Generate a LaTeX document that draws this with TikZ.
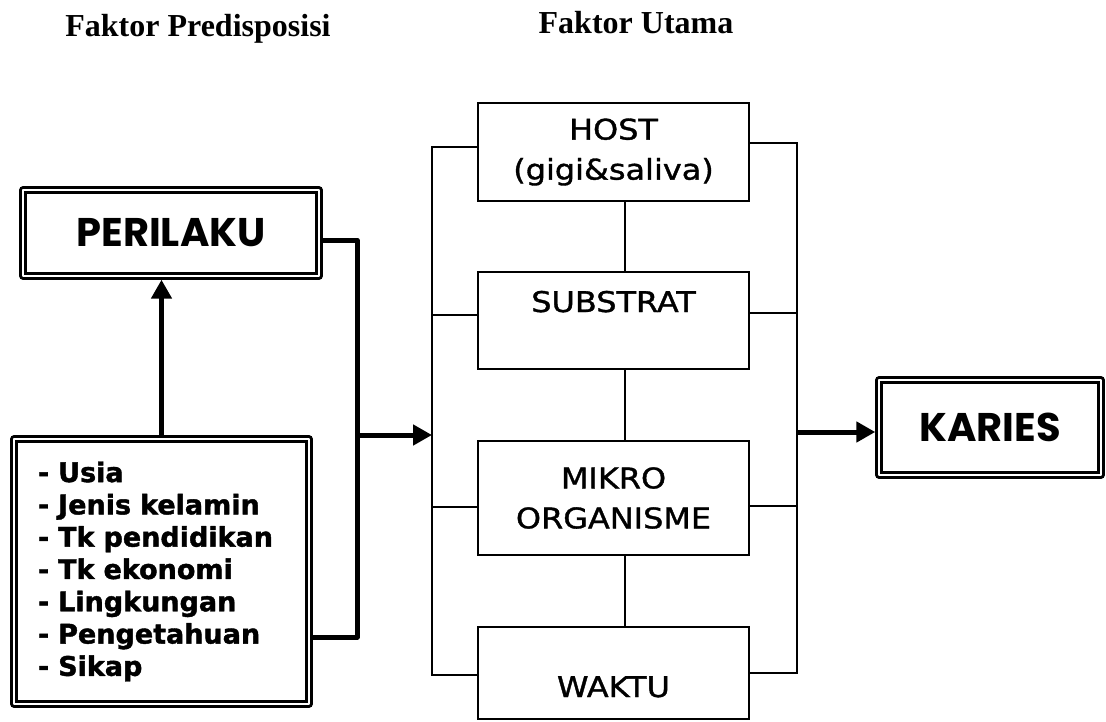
\documentclass[tikz,border=0pt]{standalone}
\usepackage{fontspec}
\usepackage{graphicx}
\setmainfont{Liberation Serif}
\newfontfamily\boxfont[FakeBold=1.2]{DejaVu Sans}
\newfontfamily\listfont[BoldFeatures={FakeBold=1.5}]{DejaVu Sans}
\newfontfamily\comicfont{Poppins}
\usetikzlibrary{arrows.meta}
\newcommand{\widetext}[1]{\scalebox{1.12}[1]{#1}}
\begin{document}
\begin{tikzpicture}[x=1pt,y=-1pt,
  dbox/.style={draw=black, line width=2.4pt, double=white, double distance=2.6pt,
    inner sep=0pt, outer sep=3.7pt, line join=round},
  sbox/.style={draw=black, line width=2.4pt, inner sep=0pt, minimum width=271pt,
    align=center, font=\boxfont\fontsize{28.5}{40}\selectfont},
  thinline/.style={line width=2.4pt},
  heavy/.style={line width=5pt, line join=round},
  heavyarrow/.style={heavy, -{Triangle[length=19pt,width=20pt]}},
  title/.style={font=\bfseries\fontsize{32}{36}\selectfont, inner sep=0pt},
  comic/.style={font=\comicfont\bfseries\fontsize{40}{44}\selectfont},
]
\useasboundingbox (0,0) rectangle (1106,721);

% titles
\node[title, anchor=base] (t1) at (198,36) {Faktor Predisposisi};
\node[title, anchor=base] (t2) at (636,33) {Faktor Utama};

% left side
\node[dbox, comic, minimum width=296pt, minimum height=86pt] (perilaku) at (171,233) {PERILAKU};
\node[dbox, minimum width=295pt, minimum height=265pt, text width=247pt, inner xsep=24pt,
      align=left, font=\listfont\bfseries\fontsize{27}{32.3}\selectfont] (list) at (161.5,571.5)
  {- Usia\\- Jenis kelamin\\- Tk pendidikan\\- Tk ekonomi\\- Lingkungan\\- Pengetahuan\\- Sikap};

% middle boxes
\node[sbox, minimum height=98pt] (host) at (613.5,152) {\widetext{HOST}\\\widetext{(gigi\&saliva)}};
\node[sbox, minimum height=97pt, text height=40pt, text depth=57pt] (substrat) at (613.5,320.5) {\widetext{SUBSTRAT}};
\node[sbox, minimum height=114pt] (mikro) at (613.5,498) {\widetext{MIKRO}\\\widetext{ORGANISME}};
\node[sbox, minimum height=92pt, text height=70pt, text depth=22pt] (waktu) at (613.5,673) {\widetext{WAKTU}};

% right box
\node[dbox, comic, minimum width=222pt, minimum height=95pt] (karies) at (990,427.5) {KARIES};

% bracket coordinates
\coordinate (L1) at (432,147);
\coordinate (L4) at (432,675);
\coordinate (R1) at (797,143);
\coordinate (R4) at (797,673);
\coordinate (V) at (625,0);

% left bracket
\draw[thinline] (host.west |- L1) -- (L1) -- (L4) -- (waktu.west |- L4);
\draw[thinline] (substrat.west |- 0,315) -- (L1 |- 0,315);
\draw[thinline] (mikro.west |- 0,507) -- (L1 |- 0,507);
% right bracket
\draw[thinline] (host.east |- R1) -- (R1) -- (R4) -- (waktu.east |- R4);
\draw[thinline] (substrat.east |- 0,313) -- (R1 |- 0,313);
\draw[thinline] (mikro.east |- 0,506) -- (R1 |- 0,506);
% vertical links
\draw[thinline] (host.south -| V) -- (substrat.north -| V);
\draw[thinline] (substrat.south -| V) -- (mikro.north -| V);
\draw[thinline] (mikro.south -| V) -- (waktu.north -| V);

% heavy connectors
\coordinate (P1) at (357,240);
\coordinate (P2) at (357,637);
\coordinate (J) at (357,435);
\coordinate (K) at (797,432);
\draw[heavyarrow] (list.north) -- (list.north |- perilaku.south);
\draw[heavy] (perilaku.east |- P1) -- (P1) -- (P2) -- (list.east |- P2);
\draw[heavyarrow] (J) -- (L1 |- J);
\draw[heavyarrow] (K) -- (K -| karies.west);
\end{tikzpicture}
\end{document}
